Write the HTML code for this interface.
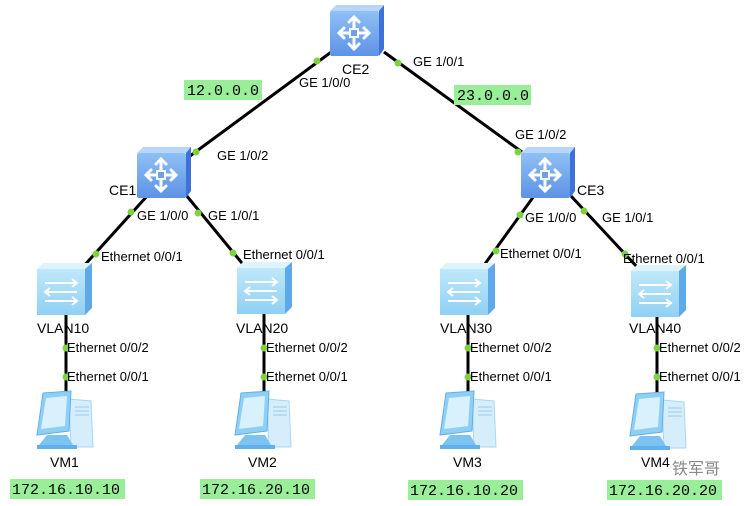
<!DOCTYPE html>
<html><head><meta charset="utf-8"><style>
html,body{margin:0;padding:0;background:#fff;}
svg{display:block;}
text{font-family:"Liberation Sans",Arial,sans-serif;fill:#000;}
.s{font-size:13px;}
.n{font-size:14px;}
.ip{font-family:"Liberation Mono",monospace;font-size:15px;}
</style></head><body>
<svg width="748" height="506" viewBox="0 0 748 506" xmlns="http://www.w3.org/2000/svg">
<defs>
<linearGradient id="rg" x1="0" y1="0" x2="0" y2="1"><stop offset="0" stop-color="#8fc0f5"/><stop offset="1" stop-color="#5d93e6"/></linearGradient>
<linearGradient id="sg" x1="0" y1="0" x2="0" y2="1"><stop offset="0" stop-color="#bfe8fb"/><stop offset="1" stop-color="#8fd0f4"/></linearGradient>
<g id="router">
<path d="M0 6 L6 0 L54 0 L49 6 Z" fill="#b8d6fb"/>
<path d="M49 6 L54 0 L54 44 L49 51 Z" fill="#3f72d6"/>
<rect x="0" y="6" width="49" height="45" rx="2" fill="url(#rg)"/>
<g stroke="#fff" stroke-width="3" fill="none" stroke-linecap="round">
<path d="M24 28 L24 12 M19 17 L24 12 L29 17"/>
<path d="M24 28 L24 44 M19 39 L24 44 L29 39"/>
<path d="M24 28 L9 28 M14 23 L9 28 L14 33"/>
<path d="M24 28 L39 28 M34 23 L39 28 L34 33"/>
</g>
<rect x="20" y="24" width="8" height="8" fill="#6fa0ea" stroke="#fff" stroke-width="2"/>
</g>
<g id="switch">
<path d="M0 6 L6 0 L55 0 L48 6 Z" fill="#dff3fd"/>
<path d="M48 6 L55 0 L55 45 L48 52 Z" fill="#5da9ea"/>
<rect x="0" y="6" width="48" height="46" fill="url(#sg)"/>
<g stroke="#fff" stroke-width="2" fill="none">
<path d="M8 20 L40 20 M35 16 L40 20 L35 24"/>
<path d="M40 29 L8 29 M13 25 L8 29 L13 33"/>
<path d="M8 38 L40 38 M35 34 L40 38 L35 42"/>
</g>
</g>
<g id="pc">
<path d="M36 8 L58 10 L60 56 L38 56 Z" fill="#d6eefc" stroke="#a9d6f5"/>
<path d="M42 16 L56 16 M42 20 L56 20 M42 24 L56 24" stroke="#9cc9ee"/>
<path d="M10 2 L38 0 L36 40 L4 44 Z" fill="#8fcff6" stroke="#5fb0ec"/>
<path d="M13 7 L34 5 L32 35 L8 38 Z" fill="#d8f1fd"/>
<path d="M14 44 L34 44 L40 54 L6 54 Z" fill="#7dc3f2"/>
<rect x="4" y="54" width="40" height="4" fill="#5fb0ec"/>
</g>
</defs>

<g stroke="#000" stroke-width="3">
<line x1="334" y1="50" x2="190" y2="156"/>
<line x1="384" y1="52" x2="522" y2="152"/>
<line x1="148" y1="195" x2="82" y2="268"/>
<line x1="186" y1="195" x2="246" y2="268"/>
<line x1="534" y1="196" x2="482" y2="268"/>
<line x1="571" y1="196" x2="638" y2="268"/>
<line x1="66" y1="315" x2="66" y2="395"/>
<line x1="264" y1="314" x2="264" y2="395"/>
<line x1="468" y1="315" x2="468" y2="395"/>
<line x1="657" y1="315" x2="657" y2="395"/>
</g>

<use href="#router" x="330" y="5"/>
<use href="#router" x="137" y="147"/>
<use href="#router" x="521" y="147"/>
<use href="#switch" x="37" y="263"/>
<use href="#switch" x="237" y="262"/>
<use href="#switch" x="440" y="263"/>
<use href="#switch" x="631" y="265"/>
<use href="#pc" x="33" y="391"/>
<use href="#pc" x="231" y="391"/>
<use href="#pc" x="436" y="391"/>
<use href="#pc" x="626" y="392"/>

<g fill="#7ed23f">
<circle cx="317" cy="61" r="3.5"/><circle cx="196" cy="152" r="3.5"/>
<circle cx="398" cy="63" r="3.5"/><circle cx="518" cy="152" r="3.5"/>
<circle cx="131" cy="212" r="3.5"/><circle cx="96" cy="254" r="3.5"/>
<circle cx="198" cy="213" r="3.5"/><circle cx="233" cy="253" r="3.5"/>
<circle cx="520" cy="215" r="3.5"/><circle cx="496" cy="251" r="3.5"/>
<circle cx="584" cy="211" r="3.5"/><circle cx="625" cy="254" r="3.5"/>
<circle cx="66" cy="348" r="3.5"/><circle cx="66" cy="377" r="3.5"/>
<circle cx="264" cy="348" r="3.5"/><circle cx="264" cy="377" r="3.5"/>
<circle cx="468" cy="348" r="3.5"/><circle cx="468" cy="377" r="3.5"/>
<circle cx="657" cy="348" r="3.5"/><circle cx="657" cy="377" r="3.5"/>
</g>

<g fill="#98ef98">
<rect x="184" y="80" width="78" height="20"/>
<rect x="454" y="85" width="77" height="20"/>
<rect x="10" y="479" width="115" height="20"/>
<rect x="200" y="479" width="115" height="20"/>
<rect x="408" y="480" width="115" height="20"/>
<rect x="607" y="480" width="115" height="20"/>
</g>
<text class="ip" x="187" y="95">12.0.0.0</text>
<text class="ip" x="457" y="100">23.0.0.0</text>
<text class="ip" x="12" y="494">172.16.10.10</text>
<text class="ip" x="202" y="494">172.16.20.10</text>
<text class="ip" x="410" y="495">172.16.10.20</text>
<text class="ip" x="609" y="495">172.16.20.20</text>

<text class="n" x="342" y="74">CE2</text>
<text class="n" x="109" y="195">CE1</text>
<text class="n" x="577" y="195">CE3</text>
<text class="n" x="37" y="333">VLAN10</text>
<text class="n" x="236" y="333">VLAN20</text>
<text class="n" x="440" y="333">VLAN30</text>
<text class="n" x="629" y="333">VLAN40</text>
<text class="n" x="50" y="467">VM1</text>
<text class="n" x="248" y="467">VM2</text>
<text class="n" x="453" y="467">VM3</text>
<text class="n" x="641" y="467">VM4</text>
<text x="672" y="474" style="font-size:16px;fill:#888;font-family:'Liberation Sans','Noto Sans CJK SC',sans-serif">铁军哥</text>

<text class="s" x="299" y="87">GE 1/0/0</text>
<text class="s" x="413" y="66">GE 1/0/1</text>
<text class="s" x="217" y="160">GE 1/0/2</text>
<text class="s" x="515" y="139">GE 1/0/2</text>
<text class="s" x="137" y="220">GE 1/0/0</text>
<text class="s" x="208" y="220">GE 1/0/1</text>
<text class="s" x="525" y="222">GE 1/0/0</text>
<text class="s" x="602" y="222">GE 1/0/1</text>
<text class="s" x="101" y="261">Ethernet 0/0/1</text>
<text class="s" x="243" y="259">Ethernet 0/0/1</text>
<text class="s" x="500" y="258">Ethernet 0/0/1</text>
<text class="s" x="623" y="263">Ethernet 0/0/1</text>
<text class="s" x="67" y="352">Ethernet 0/0/2</text>
<text class="s" x="67" y="381">Ethernet 0/0/1</text>
<text class="s" x="266" y="352">Ethernet 0/0/2</text>
<text class="s" x="266" y="381">Ethernet 0/0/1</text>
<text class="s" x="470" y="352">Ethernet 0/0/2</text>
<text class="s" x="470" y="381">Ethernet 0/0/1</text>
<text class="s" x="659" y="352">Ethernet 0/0/2</text>
<text class="s" x="659" y="381">Ethernet 0/0/1</text>
</svg>
</body></html>
